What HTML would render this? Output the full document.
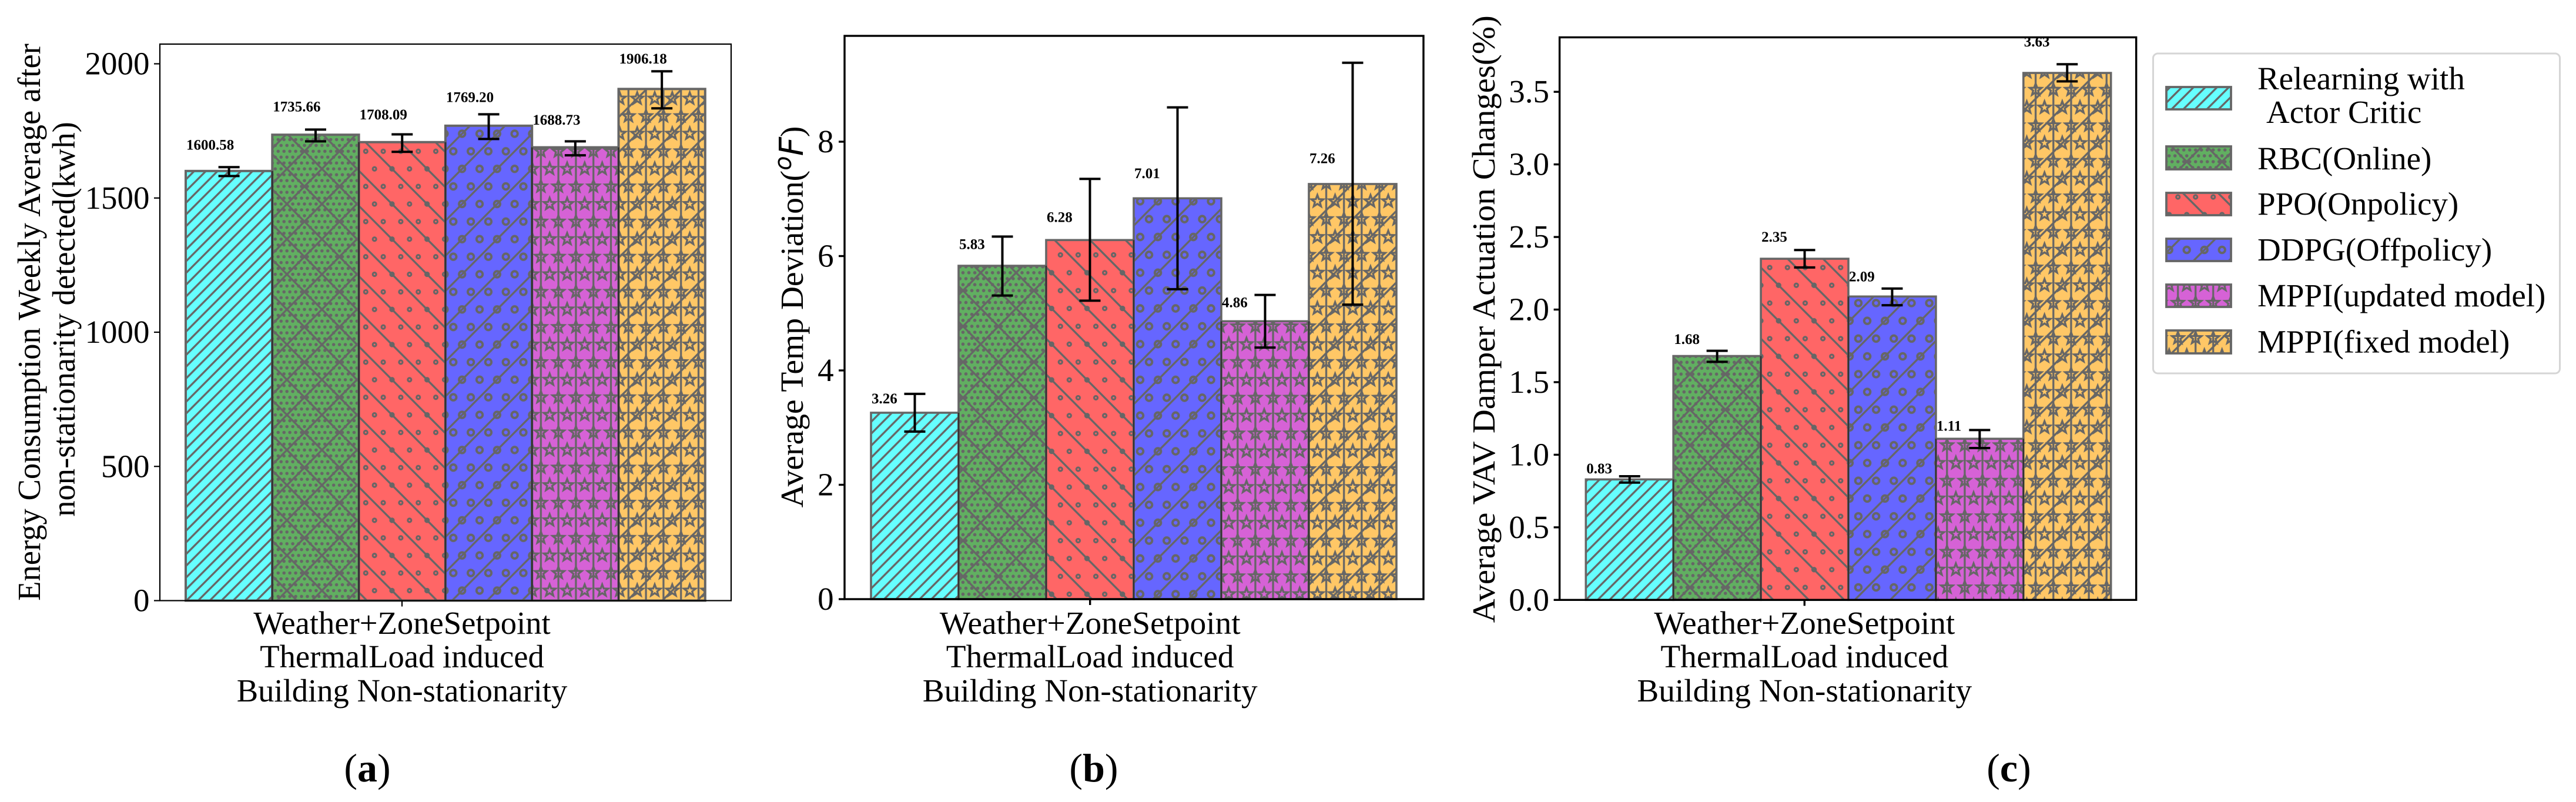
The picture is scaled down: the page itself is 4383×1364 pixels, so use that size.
<!DOCTYPE html>
<html lang="en">
<head>
<meta charset="utf-8">
<title>Building non-stationarity comparison</title>
<style>
html,body{margin:0;padding:0;background:#fff;}
body{width:4383px;height:1364px;overflow:hidden;}
svg{display:block;}
text{font-family:"Liberation Serif",serif;fill:#000;}
</style>
</head>
<body>
<svg id="fig" xmlns="http://www.w3.org/2000/svg" width="4383" height="1364" viewBox="0 0 4383 1364">
  <defs id="hatch-defs"></defs>
  <rect x="0" y="0" width="4383" height="1364" fill="#fff"></rect>
</svg>
<script>
// ---- chart data ----
const categories = ["Relearning with\n Actor Critic","RBC(Online)","PPO(Onpolicy)","DDPG(Offpolicy)","MPPI(updated model)","MPPI(fixed model)"];
const xCategoryLines = ["Weather+ZoneSetpoint","ThermalLoad induced","Building Non-stationarity"];

const energyValues = [1600.58,1735.66,1708.09,1769.20,1688.73,1906.18];
const energyErrLow = [1582,1711,1672,1720,1659,1834];
const energyErrHigh = [1615,1755,1737,1812,1711,1972];
const energyTicks = ["0","500","1000","1500","2000"];

const tempValues = [3.26,5.83,6.28,7.01,4.86,7.26];
const tempErrLow = [2.93,5.31,5.22,5.42,4.40,5.15];
const tempErrHigh = [3.59,6.34,7.35,8.60,5.32,9.38];
const tempTicks = ["0","2","4","6","8"];

const damperValues = [0.83,1.68,2.35,2.09,1.11,3.63];
const damperErrLow = [0.808,1.64,2.29,2.03,1.046,3.572];
const damperErrHigh = [0.852,1.716,2.41,2.145,1.17,3.69];
const damperTicks = ["0.0","0.5","1.0","1.5","2.0","2.5","3.0","3.5"];

// ---- styling ----
const fills = ["#66FFFF","#61AF61","#FF6666","#6666FF","#D662D6","#FFC766"];
const hatchKeys = ["cyan","green","red","blue","magenta","orange"];
const SVGNS = "http://www.w3.org/2000/svg";
const fig = document.getElementById("fig");
const defs = document.getElementById("hatch-defs");

function make(tag, attrs, parent, txt){
  const el = document.createElementNS(SVGNS, tag);
  for(const k in attrs){ el.setAttribute(k, attrs[k]); }
  if(txt !== undefined){ el.textContent = txt; }
  (parent || fig).appendChild(el);
  return el;
}

// ---- hatch tiles (60 x 60 tile, scaled per panel) ----
const gridPts = [[0,0],[30,0],[60,0],[15,30],[45,30],[0,60],[30,60],[60,60]];
function ln(x1,y1,x2,y2){ return '<line x1="'+x1+'" y1="'+y1+'" x2="'+x2+'" y2="'+y2+'" stroke="#666" stroke-width="3.3"/>'; }
function slashes(list){ return list.map(function(c){ return ln(c+10,-10,c-70,70); }).join(""); }
function backs(list){ return list.map(function(c){ return ln(c-10,-10,c+70,70); }).join(""); }
function rings(r,sw){ return gridPts.map(function(p){ return '<circle cx="'+p[0]+'" cy="'+p[1]+'" r="'+r+'" fill="none" stroke="#666" stroke-width="'+sw+'"/>'; }).join(""); }
function dots(){
  let s = "";
  for(let r=-1;r<=7;r++){
    for(let k=-1;k<=7;k++){
      s += '<circle cx="'+(k*10+(((r%2)+2)%2?5:0))+'" cy="'+(r*10)+'" r="2.8" fill="#666"/>';
    }
  }
  return s;
}
function stars(){
  return gridPts.map(function(p){
    let pts = [];
    for(let i=0;i<10;i++){
      const rad = i%2 ? 4.4 : 10.5;
      const a = -Math.PI/2 + i*Math.PI/5;
      pts.push((p[0]+rad*Math.cos(a)).toFixed(2)+","+(p[1]+rad*Math.sin(a)).toFixed(2));
    }
    return '<polygon points="'+pts.join(" ")+'" fill="none" stroke="#666" stroke-width="3.3"/>';
  }).join("");
}
function verticals(){ return [0,30,60].map(function(x){ return ln(x,-5,x,65); }).join(""); }
const tiles = {
  cyan: slashes([0,20,40,60,80,100,120]),
  green: dots()+slashes([15,75])+backs([15,-45]),
  red: rings(3,3.2)+'<circle cx="45" cy="30" r="4.6" fill="#666"/>'+backs([15,-45]),
  blue: rings(5.2,4)+slashes([15,75]),
  magenta: stars()+verticals(),
  orange: stars()+verticals()+slashes([15,75])
};
function addPatterns(prefix,sx,sy,ox,oy){
  let html = "";
  for(const key of hatchKeys){
    html += '<pattern id="'+prefix+'-'+key+'" patternUnits="userSpaceOnUse" width="60" height="60" patternTransform="matrix('+sx+' 0 0 '+sy+' '+ox+' '+oy+')">'+tiles[key]+'</pattern>';
  }
  defs.innerHTML += html;
}
addPatterns("pa",59.6/60,59.77/60,622.3,855);
addPatterns("pb",60.3/60,60.75/60,1804.3,858.7);
addPatterns("pc",60.33/60,60.45/60,3041.3,817.67);
addPatterns("pl",1,1,3645.7,395);

// ---- panels ----
function drawPanel(cfg){
  const g = make("g",{},fig);
  
  
  const yScale = function(v){ return cfg.bottom - v*cfg.pxPerUnit; };
  const xScale = function(i){ return cfg.barLeft + i*cfg.barWidth; };

  // bars
  cfg.values.forEach(function(v,i){
    const x = xScale(i), y = yScale(v), h = cfg.bottom - y;
    const base = make("rect",{x:x,y:y,width:cfg.barWidth,height:h,fill:fills[i]},g);
    
    
    const hatch = make("rect",{x:x,y:y,width:cfg.barWidth,height:h,fill:"url(#"+cfg.prefix+"-"+hatchKeys[i]+")"},g);
    
    
    const edge = make("rect",{x:x,y:y,width:cfg.barWidth,height:h,fill:"none",stroke:"#666","stroke-width":cfg.edge},g);
    
    
  });
  // darker overlap between neighbouring bars
  for(let i=1;i<cfg.values.length;i++){
    const top = yScale(Math.min(cfg.values[i-1],cfg.values[i]));
    const shared = make("line",{x1:xScale(i),x2:xScale(i),y1:top,y2:cfg.bottom,stroke:"#333","stroke-width":cfg.edge-1},g);
    
    
  }
  // error bars
  cfg.values.forEach(function(v,i){
    const cx = xScale(i)+cfg.barWidth/2;
    const yH = yScale(cfg.errHigh[i]), yL = yScale(cfg.errLow[i]);
    const eg = make("g",{stroke:"#000","stroke-width":4},g);
    
    
    make("line",{x1:cx,x2:cx,y1:yH,y2:yL},eg);
    make("line",{x1:cx-18,x2:cx+18,y1:yH,y2:yH},eg);
    make("line",{x1:cx-18,x2:cx+18,y1:yL,y2:yL},eg);
    const lab = make("text",{x:xScale(i)+1,y:yScale(v*1.05),"font-size":25,"font-weight":"bold"},g,v.toFixed(2));
    
    
  });
  // frame
  const frame = make("rect",{x:cfg.left,y:cfg.top,width:cfg.right-cfg.left,height:cfg.bottom-cfg.top,fill:"none",stroke:"#000","stroke-width":cfg.frame},g);
  
  
  // y ticks
  cfg.ticks.forEach(function(t){
    const y = yScale(parseFloat(t));
    const tick = make("line",{x1:cfg.left-10,x2:cfg.left,y1:y,y2:y,stroke:"#000","stroke-width":cfg.frame},g);
    
    
    const tl = make("text",{x:cfg.tickRight,y:y+18,"font-size":55,"text-anchor":"end"},g,t);
    
    
  });
  // x tick and label
  const xt = make("line",{x1:cfg.xTick,x2:cfg.xTick,y1:cfg.bottom,y2:cfg.bottom+10,stroke:"#000","stroke-width":cfg.frame},g);
  
  
  xCategoryLines.forEach(function(line,i){
    const xl = make("text",{x:cfg.xTick,y:[1078,1135,1193][i],"font-size":cfg.xFont,"text-anchor":"middle"},g,line);
    
    
  });
  return g;
}

drawPanel({name:"chart-a-energy",prefix:"pa",values:energyValues,errLow:energyErrLow,errHigh:energyErrHigh,ticks:energyTicks,
  left:272,right:1244,top:75,bottom:1021.5,pxPerUnit:0.4565,barLeft:316,barWidth:147.3,edge:4,frame:2.2,tickRight:254.5,xTick:684,xFont:54.6});
drawPanel({name:"chart-b-temp",prefix:"pb",values:tempValues,errLow:tempErrLow,errHigh:tempErrHigh,ticks:tempTicks,
  left:1437,right:2422,top:61,bottom:1019,pxPerUnit:97.25,barLeft:1482,barWidth:149,edge:3.6,frame:3.4,tickRight:1418.6,xTick:1854.7,xFont:55.3});
drawPanel({name:"chart-c-damper",prefix:"pc",values:damperValues,errLow:damperErrLow,errHigh:damperErrHigh,ticks:damperTicks,
  left:2653.6,right:3634.7,top:63.5,bottom:1020.3,pxPerUnit:246.9,barLeft:2698.3,barWidth:148.9,edge:3.6,frame:3.4,tickRight:2636,xTick:3070.3,xFont:55.3});

// ---- y-axis titles ----
function yTitle(name,x,y,str,fs,len){
  const t = make("text",{transform:"translate("+x+","+y+") rotate(-90)","font-size":fs,"text-anchor":"middle"},fig,str);
  
  
  if(len){ t.setAttribute("textLength", len); t.setAttribute("lengthAdjust","spacingAndGlyphs"); }
  return t;
}
yTitle("y-axis-title-a-line-1",68,548,"Energy Consumption Weekly Average after",54.6);
yTitle("y-axis-title-a-line-2",127,543,"non-stationarity detected(kwh)",54.6);
yTitle("y-axis-title-c",2543,542.7,"Average VAV Damper Actuation Changes(%)",55,1033);

const tb = yTitle("y-axis-title-b",1366,539,"Average Temp Deviation(",55.5);
const tbSup = make("tspan",{"font-family":"DejaVu Sans, sans-serif","font-style":"italic","font-size":40,dy:-20},tb,"o");


const tbF = make("tspan",{"font-family":"DejaVu Sans, sans-serif","font-style":"italic","font-size":56,dy:20},tb,"F");


const tbEnd = make("tspan",{},tb,")");



// ---- panel captions ----
function caption(name,cx,letter){
  const t = make("text",{x:cx,y:1329,"font-size":68,"text-anchor":"middle"},fig,"(");
  
  
  const b = make("tspan",{"font-weight":"bold"},t,letter);
  
  
  const c = make("tspan",{},t,")");
  
  
}
caption("panel-label-a",625,"a");
caption("panel-label-b",1861,"b");
caption("panel-label-c",3418,"c");

// ---- legend ----
const legend = make("g",{},fig);


const legendBox = make("rect",{x:3663.5,y:91,width:692,height:544,rx:8,ry:8,fill:"#fff",stroke:"#d5d5d5","stroke-width":3},legend);


const swatchTop = [148,249,328,406,484,562];
const swatchH = [38,39,38,38,38,39];
const textBase = [[152,209],[288],[365],[443],[521],[599.5]];
categories.forEach(function(name,i){
  const e = make("g",{},legend);
  
  
  make("rect",{x:3686,y:swatchTop[i],width:110,height:swatchH[i],fill:fills[i]},e);
  make("rect",{x:3686,y:swatchTop[i],width:110,height:swatchH[i],fill:"url(#pl-"+hatchKeys[i]+")"},e);
  make("rect",{x:3686,y:swatchTop[i],width:110,height:swatchH[i],fill:"none",stroke:"#666","stroke-width":3.8},e);
  name.split("\n").forEach(function(line,j){
    const starts = line.charAt(0) === " ";
    const t = make("text",{x:starts?3856:3841,y:textBase[i][j],"font-size":55},e,line.trim());
    
    
  });
});
</script>
</body>
</html>
